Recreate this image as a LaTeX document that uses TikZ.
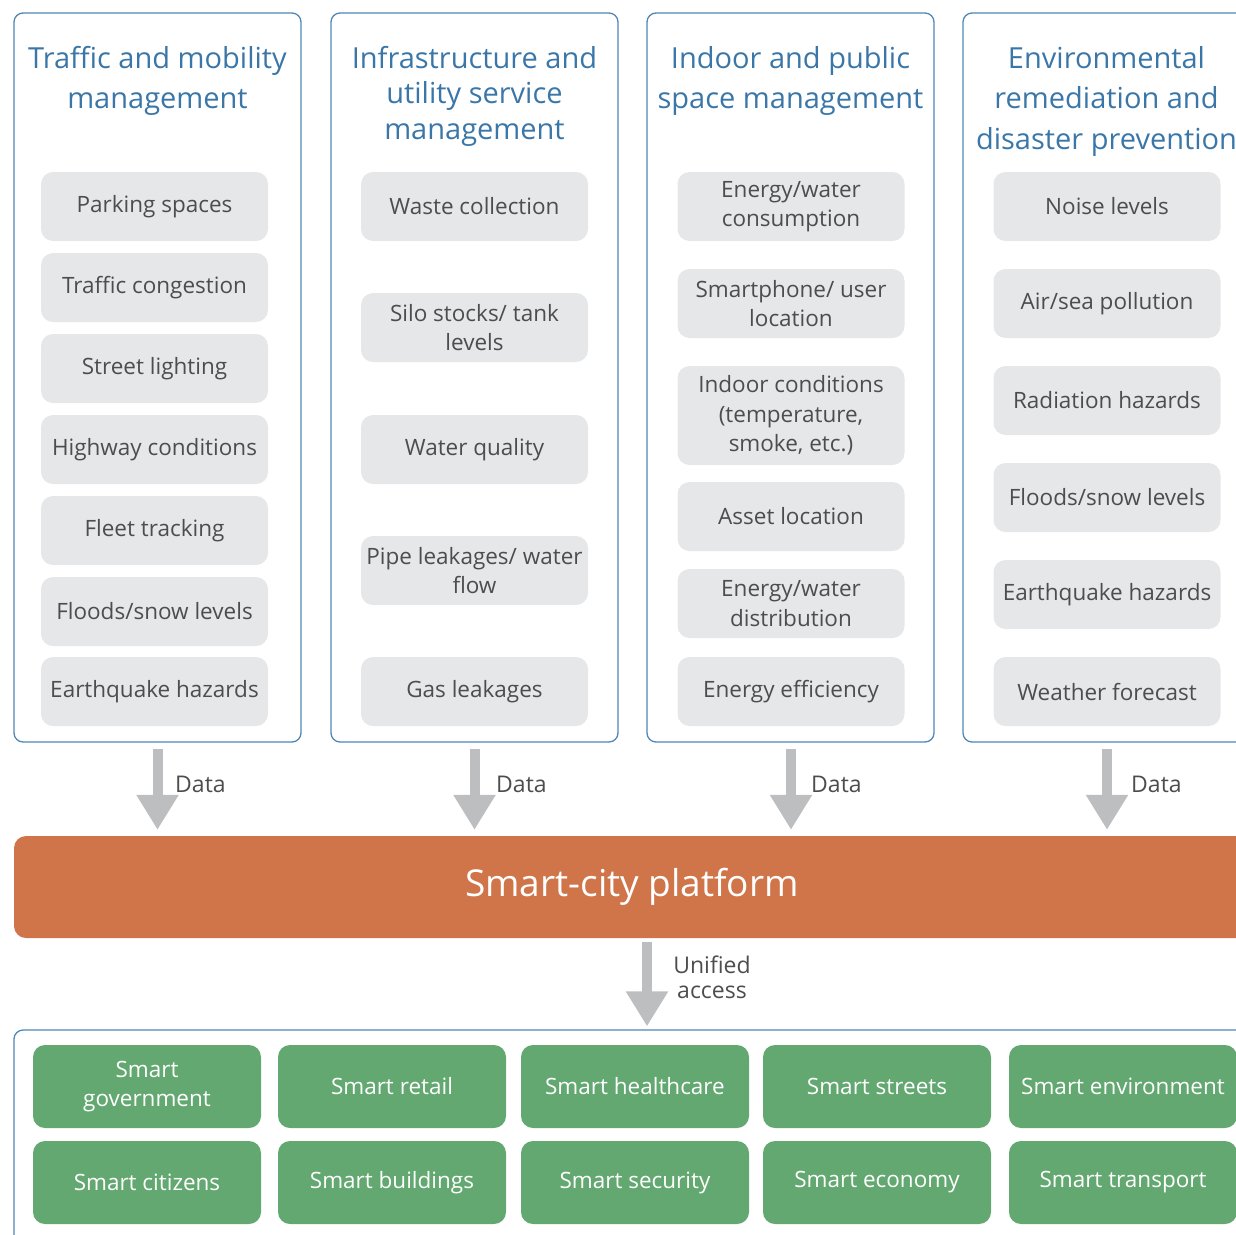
\documentclass[tikz,border=0pt]{standalone}
\usepackage{fontspec}
\setmainfont{Open Sans}
\usetikzlibrary{arrows.meta}
\definecolor{headblue}{HTML}{3A77A8}
\definecolor{boxblue}{HTML}{4F86B5}
\definecolor{itemgray}{HTML}{E6E7E8}
\definecolor{txtgray}{HTML}{4D4D4D}
\definecolor{arrgray}{HTML}{BCBEC0}
\definecolor{platorange}{HTML}{D07449}
\definecolor{smartgreen}{HTML}{62A870}
\tikzset{
  colbox/.style={draw=boxblue, line width=1.3pt, rounded corners=9pt, minimum width=287pt, minimum height=729pt, inner sep=0pt},
  headtxt/.style={text=headblue, align=center, font=\fontsize{29}{40}\selectfont, inner sep=0pt},
  item/.style={fill=itemgray, rounded corners=12pt, minimum width=227pt, minimum height=69pt, text=txtgray, align=center, font=\fontsize{22.5}{29.5}\selectfont, inner sep=0pt},
  dataarrow/.style={draw=arrgray, line width=10pt, -{Triangle[width=40pt,length=35pt]}, shorten <=6pt, shorten >=6pt},
  lbl/.style={text=txtgray, font=\fontsize{23}{25}\selectfont, inner sep=0pt, align=center},
  platbox/.style={fill=platorange, rounded corners=12pt, minimum width=1236pt, minimum height=102pt, text=white, font=\fontsize{37}{40}\selectfont, inner sep=0pt},
  smart/.style={fill=smartgreen, rounded corners=12pt, minimum width=228pt, minimum height=83pt, text=white, align=center, font=\fontsize{22.5}{29.5}\selectfont, inner sep=0pt},
}
\begin{document}
\begin{tikzpicture}[x=1pt,y=-1pt]
\useasboundingbox (0,0) rectangle (1236,1234);
\clip (0,0) rectangle (1236,1234);
% column boxes
\node[colbox] (c1) at (157.5,377.5) {};
\node[colbox] (c2) at (474.5,377.5) {};
\node[colbox] (c3) at (790.5,377.5) {};
\node[colbox] (c4) at (1106.5,377.5) {};
% headings
\node[headtxt] (h1) at (157.5,81) {Traffic and mobility\\management};
\node[headtxt, font=\fontsize{29}{35.5}\selectfont] (h2) at (474.5,96) {Infrastructure and\\utility service\\management};
\node[headtxt] (h3) at (790.5,81) {Indoor and public\\space management};
\node[headtxt, font=\fontsize{29}{40.5}\selectfont] (h4) at (1106.5,101) {Environmental\\remediation and\\disaster prevention};
% column 1 items
\node[item] (a1) at (154.5,206.5) {Parking spaces};
\node[item] (a2) at (154.5,287.5) {Traffic congestion};
\node[item] (a3) at (154.5,368.5) {Street lighting};
\node[item] (a4) at (154.5,449.5) {Highway conditions};
\node[item] (a5) at (154.5,530.5) {Fleet tracking};
\node[item] (a6) at (154.5,611.5) {Floods/snow levels};
\node[item] (a7) at (154.5,691.5) {Earthquake hazards};
% column 2 items
\node[item] (b1) at (474.5,206.5) {Waste collection};
\node[item] (b2) at (474.5,327.5) {Silo stocks/ tank\\levels};
\node[item] (b3) at (474.5,449.5) {Water quality};
\node[item] (b4) at (474.5,570.5) {Pipe leakages/ water\\flow};
\node[item] (b5) at (474.5,691.5) {Gas leakages};
% column 3 items
\node[item] (d1) at (791,206.5) {Energy/water\\consumption};
\node[item] (d2) at (791,303.5) {Smartphone/ user\\location};
\node[item, minimum height=99pt] (d3) at (791,415.5) {Indoor conditions\\(temperature,\\smoke, etc.)};
\node[item] (d4) at (791,516.5) {Asset location};
\node[item] (d5) at (791,603.5) {Energy/water\\distribution};
\node[item] (d6) at (791,691.5) {Energy efficiency};
% column 4 items
\node[item] (e1) at (1107,206.5) {Noise levels};
\node[item] (e2) at (1107,303.5) {Air/sea pollution};
\node[item] (e3) at (1107,400.5) {Radiation hazards};
\node[item] (e4) at (1107,497.5) {Floods/snow levels};
\node[item] (e5) at (1107,594.5) {Earthquake hazards};
\node[item] (e6) at (1107,691.5) {Weather forecast};
% platform
\node[platbox] (plat) at (632,887) {Smart-city platform};
% data arrows
\draw[dataarrow] (c1.south) -- (c1.south |- plat.north);
\draw[dataarrow] (c2.south) -- (c2.south |- plat.north);
\draw[dataarrow] ([xshift=0.5pt]c3.south) -- ([xshift=0.5pt]c3.south |- plat.north);
\draw[dataarrow] ([xshift=0.5pt]c4.south) -- ([xshift=0.5pt]c4.south |- plat.north);
\node[lbl, anchor=west] (l1) at (175,784) {Data};
\node[lbl, anchor=west] (l2) at (496,784) {Data};
\node[lbl, anchor=west] (l3) at (811,784) {Data};
\node[lbl, anchor=west] (l4) at (1131,784) {Data};
% bottom container
\node[draw=boxblue, line width=1.3pt, rounded corners=9pt, minimum width=1236pt, minimum height=220pt, inner sep=0pt] (bot) at (632,1140) {};
\coordinate (ua) at (647,0);
\draw[dataarrow, shorten <=4pt, shorten >=3pt] (ua |- plat.south) -- (ua |- bot.north);
\node[lbl] (l5) at (712,977) {Unified\\access};
% smart boxes
\node[smart] (s1) at (147,1086.5) {Smart\\government};
\node[smart] (s2) at (392,1086.5) {Smart retail};
\node[smart] (s3) at (635,1086.5) {Smart healthcare};
\node[smart] (s4) at (877,1086.5) {Smart streets};
\node[smart] (s5) at (1123,1086.5) {Smart environment};
\node[smart] (s6) at (147,1182.5) {Smart citizens};
\node[smart] (s7) at (392,1182.5) {Smart buildings};
\node[smart] (s8) at (635,1182.5) {Smart security};
\node[smart] (s9) at (877,1182.5) {Smart economy};
\node[smart] (s10) at (1123,1182.5) {Smart transport};
\end{tikzpicture}
\end{document}
